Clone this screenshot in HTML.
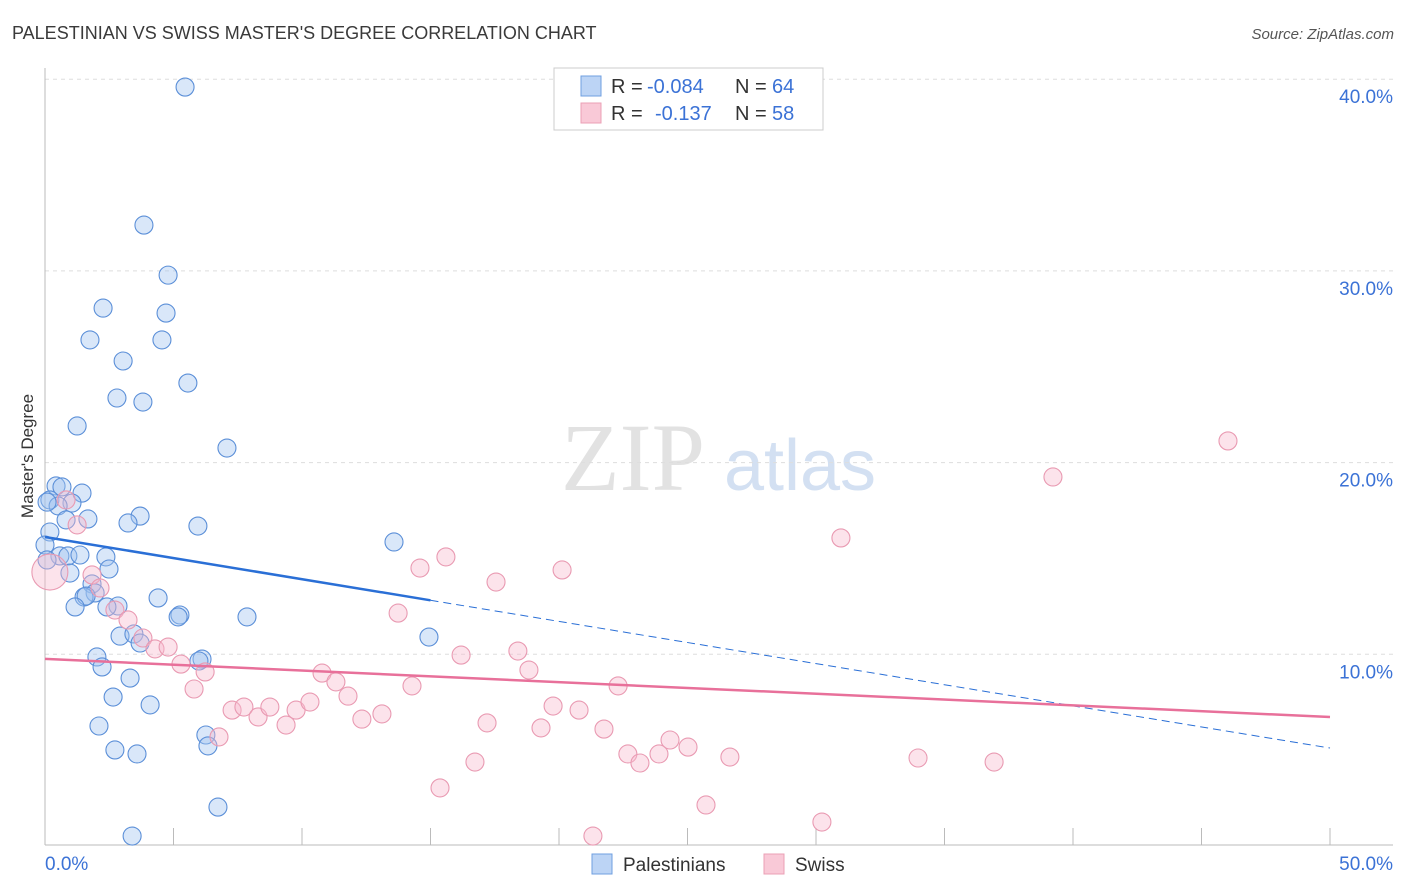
<!DOCTYPE html>
<html><head><meta charset="utf-8"><style>
body{margin:0;background:#fff;font-family:"Liberation Sans",sans-serif}
svg{display:block}
</style></head><body>
<svg width="1406" height="892">
<text x="12" y="39" font-size="18" fill="#3a3a3a">PALESTINIAN VS SWISS MASTER'S DEGREE CORRELATION CHART</text>
<text x="1394" y="39" font-size="15" fill="#555" font-style="italic" text-anchor="end">Source: ZipAtlas.com</text>
<text x="33" y="456" font-size="17" fill="#333" text-anchor="middle" transform="rotate(-90 33 456)">Master's Degree</text>
<g>
<text x="633" y="490" font-size="96" fill="#e2e2e2" font-family="Liberation Serif,serif" text-anchor="middle">ZIP</text>
<text x="800" y="490" font-size="72" fill="#d3e0f2" text-anchor="middle">atlas</text>
</g>
<g id="grid"></g>
<g id="axes"></g>
<g id="pts"></g>
<g id="trend"></g>
<g>
<rect x="554" y="68" width="269" height="62" fill="#fff" stroke="#ccc"/>
<rect x="581" y="76" width="20" height="20" fill="#bcd4f5" stroke="#6f9fe0"/>
<rect x="581" y="103" width="20" height="20" fill="#f9c9d7" stroke="#eba0b6"/>
<text x="611" y="93" font-size="20" fill="#333">R = <tspan x="647" fill="#3b72d6">-0.084</tspan><tspan x="735">N = </tspan><tspan x="772" fill="#3b72d6">64</tspan></text>
<text x="611" y="120" font-size="20" fill="#333">R = <tspan x="655" fill="#3b72d6">-0.137</tspan><tspan x="735">N = </tspan><tspan x="772" fill="#3b72d6">58</tspan></text>
</g>
<g>
<rect x="592" y="854" width="20" height="20" fill="#bcd4f5" stroke="#6f9fe0"/>
<text x="623" y="871" font-size="19" fill="#333">Palestinians</text>
<rect x="764" y="854" width="20" height="20" fill="#f9c9d7" stroke="#eba0b6"/>
<text x="795" y="871" font-size="19" fill="#333">Swiss</text>
</g>
</svg>
<script>
const xTicks=[0,5,10,15,20,25,30,35,40,45,50];
const yTicks=[10,20,30,40];
const yTickLabels=["10.0%","20.0%","30.0%","40.0%"];
const blueX=[5.45,3.85,4.79,2.26,4.71,1.75,4.55,3.04,5.56,2.80,3.81,1.25,7.08,0.43,0.66,1.44,0.19,1.05,0.51,1.67,0.82,3.70,3.23,5.95,0.19,0.0,13.58,0.58,0.89,1.36,2.37,2.49,0.97,1.83,1.95,1.52,1.60,1.17,2.84,2.41,4.40,5.25,5.18,7.86,2.92,3.46,3.70,14.94,2.02,6.11,5.99,2.22,3.31,2.65,4.09,2.10,6.26,6.34,2.72,3.58,6.73,3.39,0.08,0.08];
const blueY=[39.59,32.39,29.78,28.06,27.80,26.40,26.40,25.30,24.15,23.37,23.16,21.91,20.76,18.78,18.73,18.41,18.05,17.89,17.74,17.06,17.01,17.21,16.85,16.69,16.38,15.70,15.86,15.13,15.13,15.18,15.08,14.45,14.24,13.67,13.20,12.99,13.04,12.47,12.52,12.47,12.94,12.05,11.95,11.95,10.95,11.06,10.59,10.90,9.86,9.75,9.65,9.34,8.76,7.77,7.36,6.26,5.79,5.22,5.01,4.80,2.03,0.52,17.94,14.92];
const pinkX=[0.19,1.25,0.82,1.83,2.14,2.72,3.23,3.81,4.28,4.79,5.29,6.23,5.80,6.77,7.28,7.74,8.29,8.75,9.38,9.77,10.31,10.78,11.32,11.79,12.33,13.11,14.28,13.74,14.59,15.60,16.19,16.73,17.20,15.37,17.55,18.40,18.83,19.30,19.77,20.12,20.78,21.75,22.30,22.68,23.15,23.89,24.32,25.02,25.72,26.65,30.23,30.97,33.97,36.93,39.22,46.03,21.32];
const pinkY=[14.29,16.75,18.05,14.14,13.46,12.31,11.79,10.85,10.28,10.38,9.49,9.08,8.19,5.69,7.09,7.25,6.73,7.25,6.31,7.09,7.51,9.02,8.56,7.82,6.62,6.89,8.35,12.15,14.50,15.08,9.96,4.38,6.42,3.03,13.77,10.17,9.18,6.16,7.30,14.40,7.09,6.10,8.35,4.80,4.33,4.80,5.53,5.16,2.14,4.64,1.25,16.07,4.59,4.38,19.25,21.13,0.52];
const blueTrend=[16.12,5.11];
const pinkTrend=[9.76,6.73];
const blueSolidEnd=15;
const NS="http://www.w3.org/2000/svg";
const sx=v=>45+v*25.7, sy=v=>846-v*19.17;
function mk(tag,attrs,parent){const e=document.createElementNS(NS,tag);for(const k in attrs)e.setAttribute(k,attrs[k]);parent.appendChild(e);return e;}
const grid=document.getElementById('grid'),axes=document.getElementById('axes'),pts=document.getElementById('pts'),trend=document.getElementById('trend');
yTicks.forEach((t,i)=>{
 const l=mk('line',{x1:45,x2:1393,y1:sy(t),y2:sy(t),stroke:'#ddd','stroke-dasharray':'4 4'},grid);
 
 
 const tx=mk('text',{x:1393,y:sy(t)+24,'font-size':19,fill:'#3b72d6','text-anchor':'end'},axes);
 tx.textContent=yTickLabels[i];
 
 
});
const xl=mk('line',{x1:45,x2:1393,y1:845,y2:845,stroke:'#bbb'},axes);


const yl=mk('line',{x1:45,x2:45,y1:68,y2:845,stroke:'#bbb'},axes);


xTicks.forEach(t=>{
 const l=mk('line',{x1:sx(t),x2:sx(t),y1:828,y2:845,stroke:'#bbb'},axes);
 
 
});
const x0=mk('text',{x:45,y:870,'font-size':19,fill:'#3b72d6'},axes);x0.textContent=xTicks[0].toFixed(1)+'%';


const x1=mk('text',{x:1393,y:870,'font-size':19,fill:'#3b72d6','text-anchor':'end'},axes);x1.textContent=xTicks[xTicks.length-1].toFixed(1)+'%';


blueX.forEach((v,i)=>{
 const c=mk('circle',{cx:sx(v),cy:sy(blueY[i]),r:9,fill:'rgba(160,196,240,0.4)',stroke:'#5b8fd8','stroke-width':1.1},pts);
 
 
});
pinkX.forEach((v,i)=>{
 const c=mk('circle',{cx:sx(v),cy:sy(pinkY[i]),r:i===0?18:9,fill:'rgba(248,185,205,0.4)',stroke:'#e99ab2','stroke-width':1.1},pts);
 
 
});
const by=x=>blueTrend[0]+(blueTrend[1]-blueTrend[0])*x/50;
const b1=mk('line',{x1:sx(0),y1:sy(by(0)),x2:sx(blueSolidEnd),y2:sy(by(blueSolidEnd)),stroke:'#2a6fd6','stroke-width':2.5},trend);


const b2=mk('line',{x1:sx(blueSolidEnd),y1:sy(by(blueSolidEnd)),x2:sx(50),y2:sy(by(50)),stroke:'#2a6fd6','stroke-width':1,'stroke-dasharray':'8 5'},trend);


const p1=mk('line',{x1:sx(0),y1:sy(pinkTrend[0]),x2:sx(50),y2:sy(pinkTrend[1]),stroke:'#e8709a','stroke-width':2.5},trend);


</script>
</body></html>
